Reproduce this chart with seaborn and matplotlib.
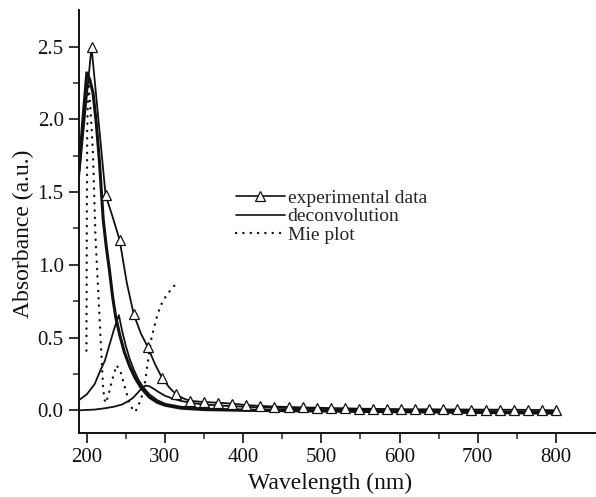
import matplotlib
matplotlib.use('Agg')
import matplotlib.pyplot as plt
from matplotlib.lines import Line2D
import seaborn as sns

# experimental spectrum (line) and the wavelengths carrying a marker
exp_wl = [190, 206, 224, 233, 242, 251, 260, 269, 278, 287, 296, 305, 314, 323, 332,
          350, 368, 386, 404, 422, 440, 458, 476, 494, 512, 530, 548, 566, 584, 602,
          620, 638, 656, 674, 692, 710, 728, 746, 764, 782, 800]
exp_abs = [1.60, 2.50, 1.48, 1.33, 1.17, 0.88, 0.66, 0.53, 0.435, 0.32, 0.225, 0.16, 0.11, 0.083, 0.065,
           0.057, 0.052, 0.046, 0.036, 0.030, 0.026, 0.023, 0.020, 0.018, 0.015, 0.014, 0.011, 0.010, 0.009, 0.008,
           0.007, 0.007, 0.006, 0.006, 0.005, 0.005, 0.004, 0.004, 0.003, 0.002, 0.0]
marker_wl = [206, 224, 242, 260, 278, 296, 314, 332, 350, 368, 386, 404, 422, 440, 458,
             476, 494, 512, 530, 548, 566, 584, 602, 620, 638, 656, 674, 692, 710, 728,
             746, 764, 782, 800]

# deconvolution components
c1_wl = [190, 195, 200, 204, 208, 212, 216, 221, 225, 229, 233, 237, 242, 248, 255, 262, 270,
         280, 290, 300, 320, 350, 400, 500, 600, 700, 800]
c1_abs = [1.65, 2.00, 2.32, 2.27, 2.18, 1.98, 1.72, 1.31, 1.12, 0.96, 0.78, 0.64, 0.52, 0.40, 0.30, 0.22, 0.15,
          0.09, 0.055, 0.035, 0.015, 0.005, 0.0, -0.005, -0.01, -0.015, -0.02]

c2_wl = [190, 200, 210, 217, 223, 229, 235, 241, 245, 250, 255, 260, 266, 272, 280, 290, 300,
         320, 350, 400, 500, 600, 700, 800]
c2_abs = [0.07, 0.11, 0.18, 0.27, 0.34, 0.45, 0.56, 0.655, 0.55, 0.44, 0.35, 0.28, 0.21, 0.16, 0.11, 0.07, 0.045,
          0.025, 0.012, 0.005, 0.0, -0.005, -0.01, -0.015]

c3_wl = [190, 210, 223, 235, 245, 252, 259, 265, 270, 275, 280, 285, 292, 300, 310, 320, 335,
         350, 380, 420, 500, 600, 700, 800]
c3_abs = [0.0, 0.005, 0.014, 0.025, 0.04, 0.06, 0.085, 0.12, 0.15, 0.17, 0.165, 0.15, 0.125, 0.10, 0.08, 0.065, 0.05,
          0.04, 0.03, 0.02, 0.01, 0.0, -0.005, -0.01]

# Mie calculation
mie_wl = [199.5, 200, 200.5, 202, 205, 208, 211, 214, 218, 221, 223.5, 227, 232, 238, 243, 248,
          254, 259, 262, 265, 270, 274, 278, 282, 287, 291, 297, 302, 309, 316]
mie_abs = [0.41, 1.26, 1.93, 2.25, 2.05, 1.75, 1.20, 0.88, 0.45, 0.14, 0.05, 0.09, 0.20, 0.31, 0.27, 0.17,
           0.06, 0.0, -0.01, 0.02, 0.09, 0.18, 0.33, 0.48, 0.59, 0.67, 0.75, 0.79, 0.84, 0.88]

sns.set_style('ticks')
plt.rcParams['font.family'] = ['Liberation Serif', 'DejaVu Serif']

fig = plt.figure(figsize=(5.96, 4.97), dpi=100)
ax = fig.add_axes([79 / 596, 64 / 497, 516 / 596, 423 / 497])

ink = '#111111'
mie_style = dict(color=ink, lw=1.7, linestyle=(0, (0.1, 3.0)), dash_capstyle='round')

# Mie plot (dotted)
sns.lineplot(x=mie_wl, y=mie_abs, ax=ax, **mie_style)

# deconvolution components
sns.lineplot(x=c1_wl, y=c1_abs, ax=ax, color=ink, lw=2.2)
sns.lineplot(x=c2_wl, y=c2_abs, ax=ax, color=ink, lw=1.3)
sns.lineplot(x=c3_wl, y=c3_abs, ax=ax, color=ink, lw=1.3)

# experimental data with triangles
mark_idx = [i for i, w in enumerate(exp_wl) if w in marker_wl]
sns.lineplot(x=exp_wl, y=exp_abs, ax=ax, color=ink, lw=1.3, marker='^', markersize=7,
             markerfacecolor='white', markeredgecolor=ink, markeredgewidth=0.9,
             markevery=mark_idx)

ax.set_xlim(190, 850)
ax.set_ylim(-0.156, 2.752)
ax.set_xticks([200, 300, 400, 500, 600, 700, 800])
ax.set_xticks(range(250, 850, 100), minor=True)
ax.set_yticks([0.0, 0.5, 1.0, 1.5, 2.0, 2.5])
ax.set_yticks([0.25, 0.75, 1.25, 1.75, 2.25], minor=True)
ax.set_yticklabels(['0.0', '0.5', '1.0', '1.5', '2.0', '2.5'])
ax.tick_params(which='major', direction='out', length=7, width=1.2, labelsize=15, colors=ink, pad=4)
ax.tick_params(which='minor', direction='out', length=4, width=1.1)
for side in ['left', 'bottom']:
    ax.spines[side].set_linewidth(1.4)
    ax.spines[side].set_color(ink)
ax.spines['top'].set_visible(False)
ax.spines['right'].set_visible(False)

ax.set_xlabel('Wavelength (nm)', fontsize=17, color=ink)
ax.set_ylabel('Absorbance (a.u.)', fontsize=17, color=ink)
ax.xaxis.set_label_coords((330 - 79) / 516, -0.095)
ax.yaxis.set_label_coords(-0.088, 0.47)

handles = [
    Line2D([], [], color=ink, lw=1.2, marker='^', markersize=7, markerfacecolor='white',
           markeredgecolor=ink, markeredgewidth=0.9),
    Line2D([], [], color=ink, lw=1.2),
    Line2D([], [], **mie_style),
]
ax.legend(handles, ['experimental data', 'deconvolution', 'Mie plot'],
          loc='upper left', bbox_to_anchor=(236 / 596, 1 - 189 / 497), bbox_transform=fig.transFigure,
          frameon=False, fontsize=14, handlelength=2.5, handletextpad=0.15,
          labelspacing=0.06, borderpad=0, borderaxespad=0, numpoints=1)

fig.savefig('out.png', dpi=100)
